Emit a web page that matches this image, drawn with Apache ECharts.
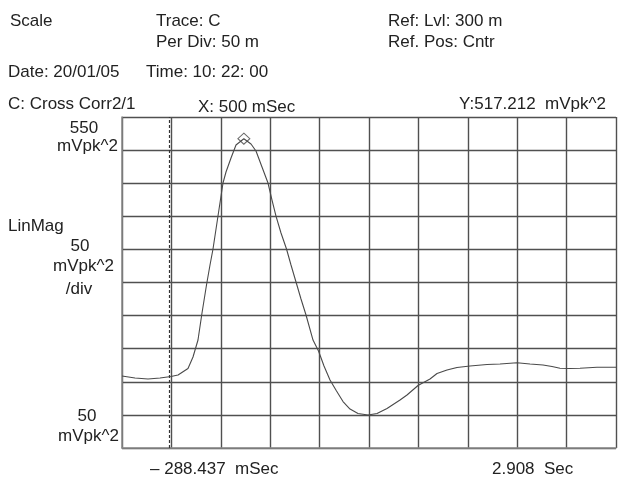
<!DOCTYPE html>
<html><head><meta charset="utf-8">
<script src="https://cdn.jsdelivr.net/npm/echarts@6/dist/echarts.min.js"></script>
<style>html,body{margin:0;padding:0;background:#fff}#c{width:626px;height:484px}</style>
</head><body><div id="c"></div>
<script>
// X axis span (ms) and Y axis range (mVpk^2)
const xStartMs = -288.437;
const xEndMs = 2908;
const yMin = 50;
const yMax = 550;
const yPerDiv = 50;
const xDivisions = 10;

// Trace C: Cross Corr2/1 (time in ms, magnitude in mVpk^2)
const timeMs = [-288.4,-204.3,-120.2,-42.5,28.6,74.0,138.6,171.0,203.3,229.2,258.3,281.0,300.4,332.7,365.1,384.5,416.9,449.2,481.6,500,546.3,578.6,617.4,656.3,682.2,708.0,740.4,776.0,805.1,837.5,869.8,902.2,947.5,983.1,1018.6,1057.5,1099.6,1141.6,1186.9,1238.7,1303.4,1361.6,1426.3,1510.4,1555.7,1626.8,1704.5,1749.8,1814.5,1879.2,1963.3,2073.3,2157.4,2267.4,2351.5,2435.6,2493.9,2545.6,2610.3,2675.0,2785.0,2908];
const valueMv = [158.8,155.7,154.2,155.7,158.0,160.3,170.1,187.5,213.1,253.9,296.2,326.4,350.6,400.4,450.3,466.9,488.1,507.7,513.7,517.212,509.2,498.6,474.5,450.3,424.6,400.4,374.8,350.6,326.4,300.8,275.1,250.9,213.1,196.5,173.9,152.7,136.1,120.2,108.9,102.1,99.8,102.1,109.7,122.5,130.1,144.4,154.2,162.5,167.8,171.6,173.9,176.1,176.9,178.8,176.9,175.4,173.1,170.4,170.1,170.4,171.9,171.9];

// Marker and cursor
const markerX = [500];
const markerY = [517.212];
const cursorMs = 15.7;

// Texts
const headerLeft = ['Scale'];
const headerMid = ['Trace: C', 'Per Div: 50 m'];
const headerRight = ['Ref: Lvl: 300 m', 'Ref. Pos: Cntr'];
const dateText = 'Date: 20/01/05';
const timeText = 'Time: 10: 22: 00';
const traceName = 'C: Cross Corr2/1';
const xReadout = 'X: 500 mSec';
const yReadout = 'Y:517.212  mVpk^2';
const topLabel = ['550', 'mVpk^2'];
const midLabel = ['LinMag', '50', 'mVpk^2', '/div'];
const bottomLabel = ['50', 'mVpk^2'];
const xStartLabel = '\u2013 288.437  mSec';
const xEndLabel = '2.908  Sec';

const FONT = '"Liberation Sans", Arial, sans-serif';
const TC = '#222';
function t(x, y, s, align) {
  return {type:'text', x:x, y:y, style:{text:s, fill:TC, fontFamily:FONT, fontSize:17, align:align||'left', verticalAlign:'middle'}};
}

const graphics = [
  t(10, 21, headerLeft[0]),
  t(156, 21, headerMid[0]),
  t(156, 42, headerMid[1]),
  t(388, 21, headerRight[0]),
  t(388, 42, headerRight[1]),
  t(8, 72, dateText),
  t(146, 72, timeText),
  t(8, 104, traceName),
  t(198, 107, xReadout),
  t(606, 104, yReadout, 'right'),
  t(84, 128, topLabel[0], 'center'),
  t(118, 146, topLabel[1], 'right'),
  t(8, 226, midLabel[0]),
  t(80, 246, midLabel[1], 'center'),
  t(114, 266, midLabel[2], 'right'),
  t(79, 289, midLabel[3], 'center'),
  t(87, 416, bottomLabel[0], 'center'),
  t(119, 436, bottomLabel[1], 'right'),
  t(150, 469, xStartLabel),
  t(492, 469, xEndLabel)
];

const chart = echarts.init(document.getElementById('c'), null, {renderer:'canvas'});
chart.setOption({
  animation:false,
  backgroundColor:'#fff',
  grid:{left:122, top:117, width:494, height:331, containLabel:false},
  xAxis:[
    {type:'value', min:0, max:xDivisions, interval:1,
     axisLine:{show:true, lineStyle:{color:'#8a8a8a', width:1.5}},
     axisTick:{show:false}, axisLabel:{show:false},
     splitLine:{show:true, lineStyle:{color:'#505050', width:1.4}}},
    {type:'value', min:xStartMs, max:xEndMs, show:false}
  ],
  yAxis:[
    {type:'value', min:yMin, max:yMax, interval:yPerDiv,
     axisLine:{show:true, lineStyle:{color:'#8a8a8a', width:1.5}},
     axisTick:{show:false}, axisLabel:{show:false},
     splitLine:{show:true, lineStyle:{color:'#505050', width:1.4}}}
  ],
  graphic: graphics,
  series:[
    {type:'line', xAxisIndex:1, yAxisIndex:0, symbol:'none', silent:true,
     data: timeMs.map((x,i)=>[x, valueMv[i]]),
     lineStyle:{color:'#4a4a4a', width:1.1},
     markLine:{symbol:'none', silent:true, label:{show:false},
       lineStyle:{color:'#333', type:[3,2], width:1.2},
       data:[{xAxis:cursorMs}]}},
    {type:'scatter', xAxisIndex:1, yAxisIndex:0, symbol:'diamond', symbolSize:[12,11], silent:true,
     data: markerX.map((x,i)=>[x, markerY[i]]),
     itemStyle:{color:'rgba(255,255,255,0)', borderColor:'#444', borderWidth:1}}
  ]
});
</script></body></html>
